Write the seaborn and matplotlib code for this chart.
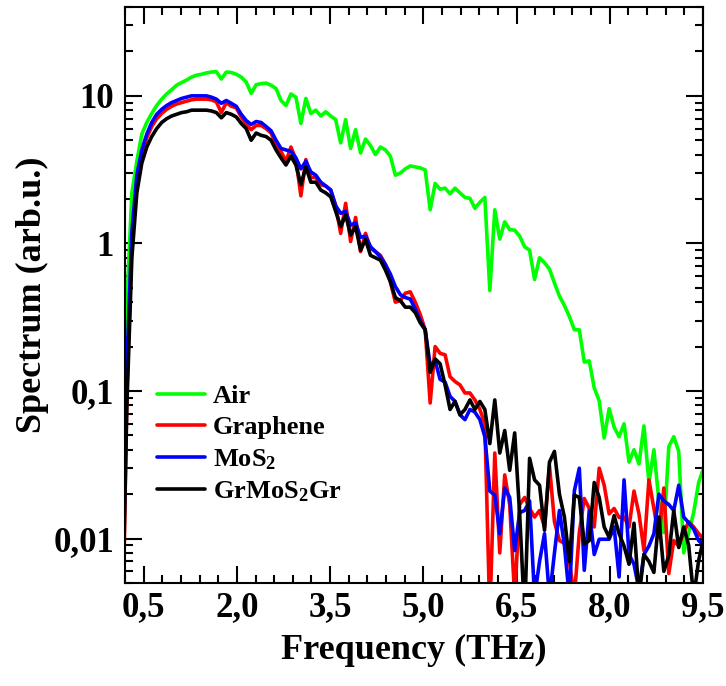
import matplotlib
matplotlib.use("Agg")
import numpy as np
import pandas as pd
import seaborn as sns
import matplotlib.pyplot as plt
from matplotlib.ticker import FixedLocator, FixedFormatter, NullFormatter

# ---------------- data ----------------
freq = [0.15, 0.23, 0.31, 0.39, 0.47, 0.55, 0.63, 0.71, 0.79, 0.87,
        0.95, 1.03, 1.11, 1.19, 1.27, 1.35, 1.43, 1.51, 1.59, 1.67,
        1.75, 1.83, 1.91, 1.99, 2.07, 2.15, 2.23, 2.31, 2.39, 2.47,
        2.55, 2.63, 2.71, 2.79, 2.87, 2.95, 3.03, 3.11, 3.19, 3.27,
        3.35, 3.43, 3.51, 3.59, 3.67, 3.75, 3.83, 3.91, 3.99, 4.07,
        4.15, 4.23, 4.31, 4.39, 4.47, 4.55, 4.63, 4.71, 4.79, 4.87,
        4.95, 5.03, 5.11, 5.19, 5.27, 5.35, 5.43, 5.51, 5.59, 5.67,
        5.75, 5.83, 5.91, 5.99, 6.07, 6.15, 6.23, 6.31, 6.39, 6.47,
        6.55, 6.63, 6.71, 6.79, 6.87, 6.95, 7.03, 7.11, 7.19, 7.27,
        7.35, 7.43, 7.51, 7.59, 7.67, 7.75, 7.83, 7.91, 7.99, 8.07,
        8.15, 8.23, 8.31, 8.39, 8.47, 8.55, 8.63, 8.71, 8.79, 8.87,
        8.95, 9.03, 9.11, 9.19, 9.27, 9.35, 9.43, 9.51]

air = [0.01, 0.4, 2.2, 3.6, 5.5, 6.6, 7.6, 8.6, 9.5, 10.3,
       11.0, 11.8, 12.3, 12.8, 13.4, 13.8, 14.0, 14.3, 14.5, 14.6,
       13.0, 14.5, 14.4, 14.0, 13.4, 12.4, 10.4, 11.9, 12.1, 12.2,
       11.8, 11.2, 9.3, 8.6, 10.3, 9.8, 6.5, 9.6, 7.6, 8.0,
       7.3, 7.8, 7.3, 6.9, 4.8, 6.9, 4.4, 5.9, 4.1, 5.1,
       4.6, 4.0, 4.5, 4.3, 3.9, 2.9, 3.0, 3.2, 3.35, 3.3,
       3.25, 3.15, 1.69, 2.55, 2.33, 2.37, 2.17, 2.37, 2.2, 2.05,
       2.02, 1.73, 1.9, 2.05, 0.48, 1.69, 1.07, 1.40, 1.24, 1.23,
       1.12, 0.95, 0.90, 0.57, 0.80, 0.74, 0.67, 0.54, 0.44, 0.38,
       0.32, 0.26, 0.26, 0.157, 0.16, 0.105, 0.086, 0.048, 0.076, 0.057,
       0.049, 0.060, 0.033, 0.040, 0.032, 0.058, 0.024, 0.040, 0.018, 0.011,
       0.042, 0.049, 0.039, 0.008, 0.011, 0.015, 0.024, 0.03]

graphene = [0.001, 0.1, 1.0, 2.6, 4.0, 5.2, 6.2, 7.0, 7.6, 8.1,
            8.5, 8.8, 9.0, 9.2, 9.4, 9.5, 9.5, 9.5, 9.4, 9.1,
            7.7, 9.0, 8.5, 8.3, 7.2, 6.4, 5.9, 6.3, 6.3, 6.0,
            5.6, 4.7, 4.2, 3.6, 4.5, 3.7, 2.1, 3.7, 2.8, 2.8,
            2.5, 2.45, 2.3, 1.8, 1.17, 1.87, 1.03, 1.5, 0.88, 1.17,
            0.93, 0.88, 0.83, 0.72, 0.55, 0.40, 0.41, 0.46, 0.47, 0.40,
            0.33, 0.26, 0.083, 0.20, 0.18, 0.176, 0.125, 0.116, 0.11, 0.097,
            0.097, 0.087, 0.075, 0.06, 0.003, 0.038, 0.008, 0.027, 0.017, 0.004,
            0.017, 0.019, 0.016, 0.014, 0.0155, 0.012, 0.031, 0.013, 0.0097, 0.0093,
            0.007, 0.004, 0.011, 0.0187, 0.016, 0.012, 0.030, 0.023, 0.0147, 0.016,
            0.0139, 0.014, 0.012, 0.021, 0.0147, 0.0083, 0.025, 0.016, 0.0102, 0.022,
            0.0058, 0.0097, 0.0089, 0.011, 0.013, 0.012, 0.0108, 0.010]

mos2 = [0.002, 0.15, 1.2, 2.9, 4.3, 5.5, 6.6, 7.5, 8.1, 8.6,
        9.0, 9.3, 9.6, 9.8, 10.0, 10.0, 10.0, 10.0, 9.8, 9.5,
        8.9, 9.3, 8.9, 8.5, 7.5, 6.8, 6.4, 6.7, 6.6, 6.2,
        5.8, 5.0, 4.4, 4.3, 4.2, 3.8, 3.2, 3.6, 3.05, 2.9,
        2.6, 2.45, 2.3, 1.8, 1.6, 1.65, 1.33, 1.38, 1.1, 1.12,
        0.95, 0.88, 0.81, 0.72, 0.62, 0.51, 0.45, 0.43, 0.42, 0.36,
        0.30, 0.26, 0.15, 0.16, 0.12, 0.115, 0.092, 0.085, 0.069, 0.064,
        0.075, 0.072, 0.064, 0.049, 0.021, 0.0197, 0.0108, 0.022, 0.019, 0.0083,
        0.015, 0.0155, 0.018, 0.004, 0.007, 0.0108, 0.004, 0.008, 0.0155, 0.009,
        0.004, 0.021, 0.030, 0.0061, 0.0155, 0.0078, 0.0099, 0.0099, 0.0099, 0.012,
        0.0055, 0.025, 0.0078, 0.0067, 0.0045, 0.0078, 0.0089, 0.0108, 0.020, 0.018,
        0.017, 0.0155, 0.023, 0.014, 0.0128, 0.0116, 0.0097, 0.009]

grmos2gr = [0.002, 0.08, 0.8, 2.2, 3.5, 4.5, 5.3, 6.0, 6.6, 7.0,
            7.3, 7.5, 7.7, 7.8, 8.0, 8.0, 8.0, 8.0, 7.9, 7.7,
            7.1, 7.7, 7.5, 7.2, 6.5, 6.0, 5.0, 5.6, 5.4, 5.3,
            5.0, 4.3, 3.8, 3.4, 3.9, 3.4, 2.5, 3.3, 2.6, 2.6,
            2.3, 2.2, 2.07, 1.65, 1.3, 1.56, 1.14, 1.3, 0.9, 1.06,
            0.83, 0.80, 0.77, 0.66, 0.55, 0.43, 0.41, 0.37, 0.37, 0.34,
            0.29, 0.26, 0.134, 0.165, 0.153, 0.11, 0.075, 0.085, 0.069, 0.075,
            0.087, 0.075, 0.085, 0.075, 0.044, 0.087, 0.038, 0.054, 0.029, 0.052,
            0.0147, 0.003, 0.035, 0.025, 0.023, 0.0114, 0.033, 0.039, 0.02, 0.014,
            0.007, 0.0197, 0.019, 0.0092, 0.0097, 0.024, 0.019, 0.012, 0.0102, 0.0143,
            0.0108, 0.0089, 0.0067, 0.0127, 0.004, 0.0078, 0.007, 0.0059, 0.014, 0.006,
            0.0077, 0.0155, 0.0087, 0.012, 0.009, 0.004, 0.0071, 0.01]

series_names = ["Air", "Graphene", "MoS2", "GrMoS2Gr"]
legend_labels = ["Air", "Graphene", "MoS$_2$", "GrMoS$_2$Gr"]
series_colors = ["#00ff00", "#ff0000", "#0000ff", "#000000"]

x_ticks = [0.5, 2.0, 3.5, 5.0, 6.5, 8.0, 9.5]
x_tick_labels = ["0,5", "2,0", "3,5", "5,0", "6,5", "8,0", "9,5"]
y_ticks = [0.01, 0.1, 1, 10]
y_tick_labels = ["0,01", "0,1", "1", "10"]

# ---------------- build table ----------------
all_series = [air, graphene, mos2, grmos2gr]
for s in all_series:
    assert len(s) == len(freq), len(s)
df = pd.concat([pd.DataFrame({"Frequency": freq, "Spectrum": vals, "Sample": name})
                for name, vals in zip(series_names, all_series)], ignore_index=True)

# ---------------- style ----------------
sns.set_theme(style="ticks")
plt.rcParams["font.family"] = ["Liberation Serif", "DejaVu Serif"]
plt.rcParams["font.weight"] = "bold"
plt.rcParams["axes.labelweight"] = "bold"
plt.rcParams["axes.labelcolor"] = "black"
plt.rcParams["text.color"] = "black"
plt.rcParams["mathtext.fontset"] = "custom"
plt.rcParams["mathtext.rm"] = "Liberation Serif:bold"
plt.rcParams["mathtext.it"] = "Liberation Serif:bold"
plt.rcParams["mathtext.bf"] = "Liberation Serif:bold"

fig = plt.figure(figsize=(7.26, 6.86), dpi=100)
ax = fig.add_axes([0.1722, 0.1501, 0.7961, 0.8397])

sns.lineplot(data=df, x="Frequency", y="Spectrum", hue="Sample",
             hue_order=series_names, palette=series_colors,
             estimator=None, sort=False, linewidth=2.6, ax=ax, legend=True)

ax.set_yscale("log")
ax.set_xlim(0.2, 9.5)
ax.set_ylim(0.005, 40)

ax.xaxis.set_major_locator(FixedLocator(x_ticks))
ax.xaxis.set_major_formatter(FixedFormatter(x_tick_labels))
ax.xaxis.set_minor_locator(FixedLocator([0.2 + 0.3 * i for i in range(32)]))
ax.yaxis.set_major_locator(FixedLocator(y_ticks))
ax.yaxis.set_major_formatter(FixedFormatter(y_tick_labels))
ax.yaxis.set_minor_locator(FixedLocator([m * 10.0 ** e for e in range(-3, 2) for m in range(2, 10)]))
ax.yaxis.set_minor_formatter(NullFormatter())

ax.tick_params(which="both", direction="in", top=True, right=True,
               colors="black", width=1.5)
ax.tick_params(which="major", length=12, labelsize=25)
ax.tick_params(axis="x", which="major", pad=6)
ax.tick_params(axis="y", which="major", pad=8)
ax.tick_params(which="minor", length=6)
for lab in ax.get_xticklabels() + ax.get_yticklabels():
    lab.set_fontweight("bold")

for sp in ax.spines.values():
    sp.set_color("black")
    sp.set_linewidth(1.5)

ax.set_xlabel("Frequency (THz)", fontsize=26, fontweight="bold",
              color="black", labelpad=7)
ax.set_ylabel("Spectrum (arb.u.)", fontsize=26, fontweight="bold",
              color="black", labelpad=3)

handles, _ = ax.get_legend_handles_labels()
leg = ax.legend(handles, legend_labels, loc="upper left",
                bbox_to_anchor=(0.056, 0.345), frameon=False,
                prop={"family": "Liberation Serif", "weight": "bold", "size": 19},
                handlelength=1.8, handletextpad=0.3, labelspacing=0.3,
                borderpad=0, borderaxespad=0)
for line in leg.get_lines():
    line.set_linewidth(2.6)

fig.savefig("out.png", dpi=100)
